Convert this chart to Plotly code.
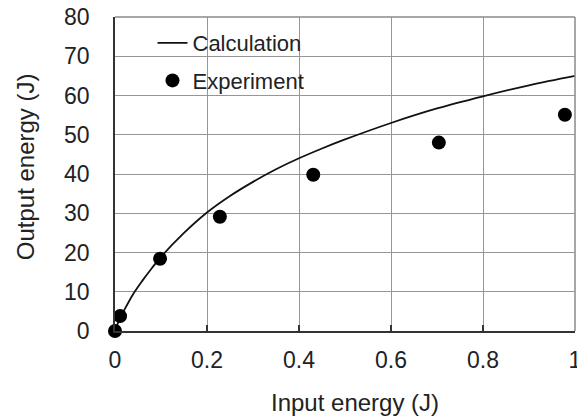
import plotly.graph_objects as go

# Calculation curve
calc_x = [0, 0.01, 0.02, 0.04, 0.06, 0.08, 0.1, 0.15, 0.2, 0.25, 0.3, 0.35,
          0.4, 0.45, 0.5, 0.6, 0.7, 0.8, 0.9, 1.0]
calc_y = [0, 3.0, 5.3, 9.5, 12.9, 16.0, 18.9, 25.0, 30.2, 34.4, 38.0, 41.2,
          44.0, 46.5, 48.8, 53.0, 56.7, 59.8, 62.6, 65.0]

# Experiment points
exp_x = [0, 0.011, 0.098, 0.228, 0.431, 0.704, 0.978]
exp_y = [0, 3.8, 18.4, 29.1, 39.8, 48.0, 55.1]

x_ticks = [0, 0.2, 0.4, 0.6, 0.8, 1]
x_tick_text = ["0", "0.2", "0.4", "0.6", "0.8", "1"]
y_ticks = [0, 10, 20, 30, 40, 50, 60, 70, 80]

FONT = "Liberation Sans, Arial, sans-serif"
TXT = "#222222"
GRID = "#969696"

fig = go.Figure()
fig.add_trace(go.Scatter(
    x=calc_x, y=calc_y, mode="lines", name="Calculation",
    line=dict(color="#111111", width=1.8, shape="spline"),
    legendgroup="a",
))
fig.add_trace(go.Scatter(
    x=exp_x, y=exp_y, mode="markers", name="Experiment",
    marker=dict(color="#000000", size=14, symbol="circle"),
    cliponaxis=False, legendgroup="b",
))

# the page body adds an 8px offset, so the figure is 8px smaller each way
fig.update_layout(
    width=577, height=410,
    margin=dict(l=107, r=10, t=9, b=86.5, autoexpand=False),
    paper_bgcolor="white", plot_bgcolor="white",
    font=dict(family=FONT, size=23, color=TXT),
    showlegend=True,
    legend=dict(
        x=0.0815, y=0.984, xanchor="left", yanchor="top",
        bgcolor="rgba(0,0,0,0)", borderwidth=0,
        font=dict(family=FONT, size=22, color=TXT),
        tracegroupgap=6, itemwidth=30,
    ),
    xaxis=dict(
        range=[0, 1], tickvals=x_ticks, ticktext=x_tick_text,
        automargin=False, ticklabeloverflow="allow",
        showgrid=True, gridcolor=GRID, gridwidth=1.2,
        zeroline=False,
        showline=True, linecolor="#333333", linewidth=1.8, mirror=False,
        ticks="inside", ticklen=6, tickcolor="#333333", tickwidth=1.5,
        ticklabelstandoff=7,
        tickfont=dict(family=FONT, size=23, color=TXT),
    ),
    yaxis=dict(
        range=[0, 80], tickvals=y_ticks,
        automargin=False, ticklabeloverflow="allow",
        showgrid=True, gridcolor=GRID, gridwidth=1.2,
        zeroline=False,
        showline=True, linecolor="#333333", linewidth=1.8, mirror=False,
        ticks="", ticklabelstandoff=19,
        tickfont=dict(family=FONT, size=23, color=TXT),
    ),
    annotations=[
        dict(text="Input energy (J)", xref="paper", yref="paper",
             x=0.5217, y=-0.2273, xanchor="center", yanchor="middle",
             showarrow=False, font=dict(family=FONT, size=24, color=TXT)),
        dict(text="Output energy (J)", xref="paper", yref="paper",
             x=-0.1957, y=0.5246, xanchor="center", yanchor="middle",
             textangle=-90, showarrow=False,
             font=dict(family=FONT, size=24, color=TXT)),
    ],
    shapes=[
        # white legend backdrop hiding the grid behind the legend
        dict(type="rect", xref="paper", yref="paper",
             x0=0.0326, x1=0.478, y0=0.742, y1=0.968,
             fillcolor="white", line=dict(width=0), layer="between"),
        dict(type="line", xref="paper", yref="paper", x0=0, x1=1, y0=1, y1=1,
             line=dict(color="#8a8a8a", width=1.5), layer="above"),
        dict(type="line", xref="paper", yref="paper", x0=1, x1=1, y0=0, y1=1,
             line=dict(color="#8a8a8a", width=1.5), layer="above"),
    ],
)

fig.write_html("out.html")
